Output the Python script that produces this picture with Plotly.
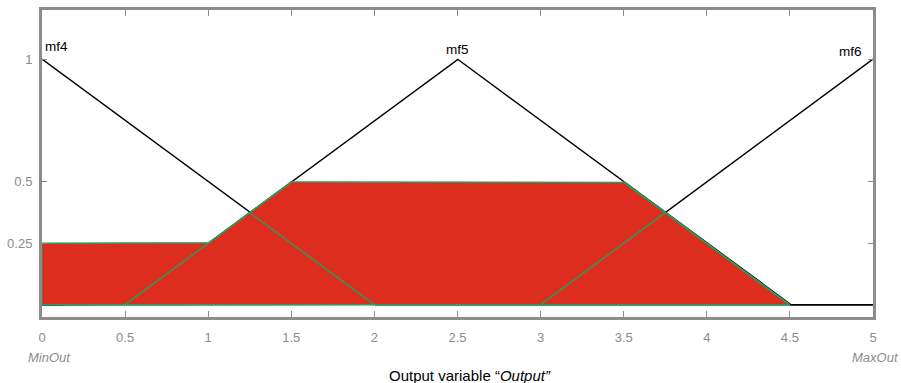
import numpy as np
import plotly.graph_objects as go

# Membership functions (triangular params a, b, c)
mf_names = ["mf4", "mf5", "mf6"]
mf_params = [[-2.0, 0.0, 2.0], [0.5, 2.5, 4.5], [3.0, 5.0, 7.0]]
firing = [0.25, 0.5, 0.0]          # clip level per membership function
x_range = [0.0, 5.0]
x_tick_vals = [0, 0.5, 1, 1.5, 2, 2.5, 3, 3.5, 4, 4.5, 5]
x_tick_text = ["0", "0.5", "1", "1.5", "2", "2.5", "3", "3.5", "4", "4.5", "5"]
y_tick_vals = [0.25, 0.5, 1]
y_tick_text = ["0.25", "0.5", "1"]

RED = "#DC2D1E"
GREEN = "#23A05A"
GREY = "#8C8C8C"

x = np.linspace(x_range[0], x_range[1], 2001)


def trimf(xv, p):
    a, b, c = p
    left = (xv - a) / (b - a)
    right = (c - xv) / (c - b)
    return np.clip(np.minimum(left, right), 0, 1)


mfs = [trimf(x, p) for p in mf_params]
agg = np.max([np.minimum(m, f) for m, f in zip(mfs, firing)], axis=0)

fig = go.Figure()

# black membership function lines
for m in mfs:
    fig.add_trace(go.Scatter(x=x, y=m, mode="lines",
                             line=dict(color="black", width=1.4),
                             hoverinfo="skip", showlegend=False))

# aggregated output region
pos = agg > 1e-9
xs = x[pos]
ys = agg[pos]
px = np.concatenate([[xs[0]], xs, [xs[-1]], [xs[0]]])
py = np.concatenate([[0], ys, [0], [0]])
fig.add_trace(go.Scatter(x=px, y=py, mode="lines", fill="toself",
                         fillcolor=RED, line=dict(color=GREEN, width=1.4),
                         hoverinfo="skip", showlegend=False))

# membership lines inside the region drawn green
for m in mfs:
    inside = (m <= agg + 1e-9) & (agg > 1e-9) & (m > 1e-9)
    gy = np.where(inside, m, np.nan)
    fig.add_trace(go.Scatter(x=x, y=gy, mode="lines",
                             line=dict(color=GREEN, width=1.4),
                             connectgaps=False,
                             hoverinfo="skip", showlegend=False))

# mf labels
fig.add_annotation(x=mf_params[0][1], y=1, text=mf_names[0], showarrow=False,
                   xanchor="left", yanchor="bottom", xshift=1, yshift=3,
                   font=dict(size=13.5, color="black"))
fig.add_annotation(x=mf_params[1][1], y=1, text=mf_names[1], showarrow=False,
                   xanchor="center", yanchor="bottom", yshift=0,
                   font=dict(size=13.5, color="black"))
fig.add_annotation(x=mf_params[2][1], y=1, text=mf_names[2], showarrow=False,
                   xanchor="right", yanchor="bottom", xshift=-9, yshift=-2,
                   font=dict(size=13.5, color="black"))

# MinOut / MaxOut / title
fig.add_annotation(x=0, y=0, xref="paper", yref="paper", text="<i>MinOut</i>",
                   showarrow=False, xanchor="center", yanchor="middle",
                   xshift=7, yshift=-40, font=dict(size=13, color=GREY))
fig.add_annotation(x=1, y=0, xref="paper", yref="paper", text="<i>MaxOut</i>",
                   showarrow=False, xanchor="center", yanchor="middle",
                   xshift=2, yshift=-40, font=dict(size=13, color=GREY))
fig.add_annotation(x=0.5, y=0, xref="paper", yref="paper",
                   text="Output variable \u201c<i>Output\u201d</i>",
                   showarrow=False, xanchor="center", yanchor="middle",
                   xshift=12, yshift=-58, font=dict(size=15, color="black"))

fig.update_xaxes(range=x_range, tickvals=x_tick_vals, ticktext=x_tick_text,
                 ticks="inside", ticklen=6, tickcolor=GREY, tickwidth=1,
                 showline=True, linecolor=GREY, linewidth=3, mirror="ticks",
                 showgrid=False, zeroline=False, automargin=False,
                 tickfont=dict(size=13, color=GREY), ticklabelstandoff=6)
fig.update_yaxes(range=[-0.05, 1.2], tickvals=y_tick_vals, ticktext=y_tick_text,
                 ticks="inside", ticklen=5, tickcolor=GREY, tickwidth=1,
                 showline=True, linecolor=GREY, linewidth=3, mirror="ticks",
                 showgrid=False, zeroline=False, automargin=False,
                 tickfont=dict(size=13, color=GREY), ticklabelstandoff=4)

fig.update_layout(width=901, height=383,
                  margin=dict(l=42, r=28, t=10, b=66),
                  plot_bgcolor="white", paper_bgcolor="white",
                  font=dict(family="Liberation Sans, Arial, sans-serif"))

fig.write_html("out.html")
